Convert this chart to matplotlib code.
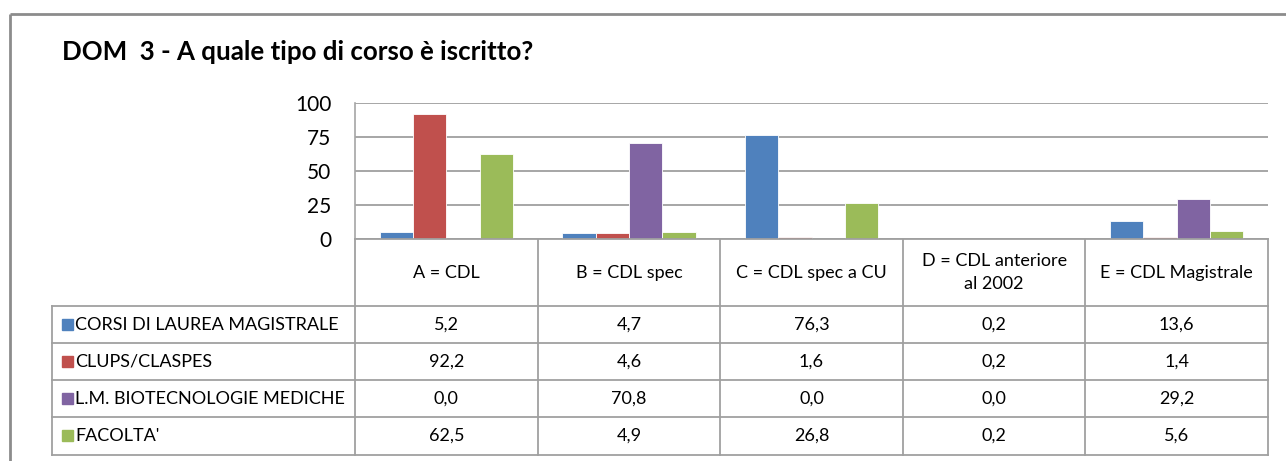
import matplotlib.pyplot as plt
from matplotlib.patches import Rectangle

categories = ["A = CDL", "B = CDL spec", "C = CDL spec a CU",
              "D = CDL anteriore\nal 2002", "E = CDL Magistrale"]
series_names = ["CORSI DI LAUREA MAGISTRALE", "CLUPS/CLASPES",
                "L.M. BIOTECNOLOGIE MEDICHE", "FACOLTA'"]
corsi = [5.2, 4.7, 76.3, 0.2, 13.6]
clups = [92.2, 4.6, 1.6, 0.2, 1.4]
biotec = [0.0, 70.8, 0.0, 0.0, 29.2]
facolta = [62.5, 4.9, 26.8, 0.2, 5.6]
series = [corsi, clups, biotec, facolta]
colors = ["#4F81BD", "#C0504D", "#8064A2", "#9BBB59"]
yticks = [0, 25, 50, 75, 100]
title = "DOM  3 - A quale tipo di corso è iscritto?"

plt.rcParams['font.family'] = ['Lato', 'DejaVu Sans']

W, H = 1286, 461
fig = plt.figure(figsize=(W / 100, H / 100), dpi=100)
grid_c = "#A6A6A6"


def box(x0, y0, x1, y1):
    # pixel box (top-left origin) -> figure fraction rect
    return [x0 / W, 1 - y1 / H, (x1 - x0) / W, (y1 - y0) / H]


pl, pr, pt, pb = 355, 1268, 103, 239
ax = fig.add_axes(box(pl, pt, pr, pb))
n = len(categories)
bw = 0.73 / len(series)
for j, (vals, c) in enumerate(zip(series, colors)):
    xs = [i + (j - 1.5) * bw for i in range(n)]
    ax.bar(xs, vals, width=bw, color=c, edgecolor="white", linewidth=0.6, zorder=3)
ax.set_xlim(-0.5, n - 0.5)
ax.set_ylim(0, 100)
ax.set_yticks(yticks)
ax.set_xticks([])
ax.yaxis.grid(True, color=grid_c, linewidth=1.4, zorder=0)
ax.set_axisbelow(True)
for s in ["top", "right", "bottom"]:
    ax.spines[s].set_visible(False)
ax.spines["left"].set_color(grid_c)
ax.spines["left"].set_linewidth(1.2)
ax.tick_params(axis="y", length=0, pad=17, labelsize=15)

# overlay in pixel coordinates for border, title and data table
ov = fig.add_axes([0, 0, 1, 1])
ov.set_xlim(0, W)
ov.set_ylim(H, 0)
ov.axis("off")

ov.plot([10, W], [14, 14], color="#8C8C8C", lw=2, solid_capstyle="butt")
ov.plot([10, 10], [14, H], color="#8C8C8C", lw=2, solid_capstyle="butt")

ov.text(62, 52, title, fontsize=18.6, fontweight="bold", va="center", ha="left")

rows = [239, 306, 343, 380, 417, 455]
lab_l = 52
cw = (pr - pl) / n
cols = [pl + i * cw for i in range(n + 1)]
lc = "#A0A0A0"
for y in rows[1:]:
    ov.plot([lab_l, pr], [y, y], color=lc, lw=1.3)
ov.plot([pl, pr], [rows[0], rows[0]], color=lc, lw=1.3)
ov.plot([lab_l, lab_l], [rows[1], rows[-1]], color=lc, lw=1.3)
for x in cols:
    ov.plot([x, x], [rows[0], rows[-1]], color=lc, lw=1.3)

fs = 13
for i, cat in enumerate(categories):
    ov.text(cols[i] + cw / 2, (rows[0] + rows[1]) / 2, cat, fontsize=fs,
            ha="center", va="center", linespacing=1.55)

for j, (name, vals, c) in enumerate(zip(series_names, series, colors)):
    yc = (rows[j + 1] + rows[j + 2]) / 2
    ov.add_patch(Rectangle((62, yc - 6), 11, 11, color=c))
    ov.text(75, yc, name, fontsize=fs, ha="left", va="center")
    for i, v in enumerate(vals):
        ov.text(cols[i] + cw / 2, yc, f"{v:.1f}".replace(".", ","),
                fontsize=fs, ha="center", va="center")

fig.savefig("out.png", dpi=100)
